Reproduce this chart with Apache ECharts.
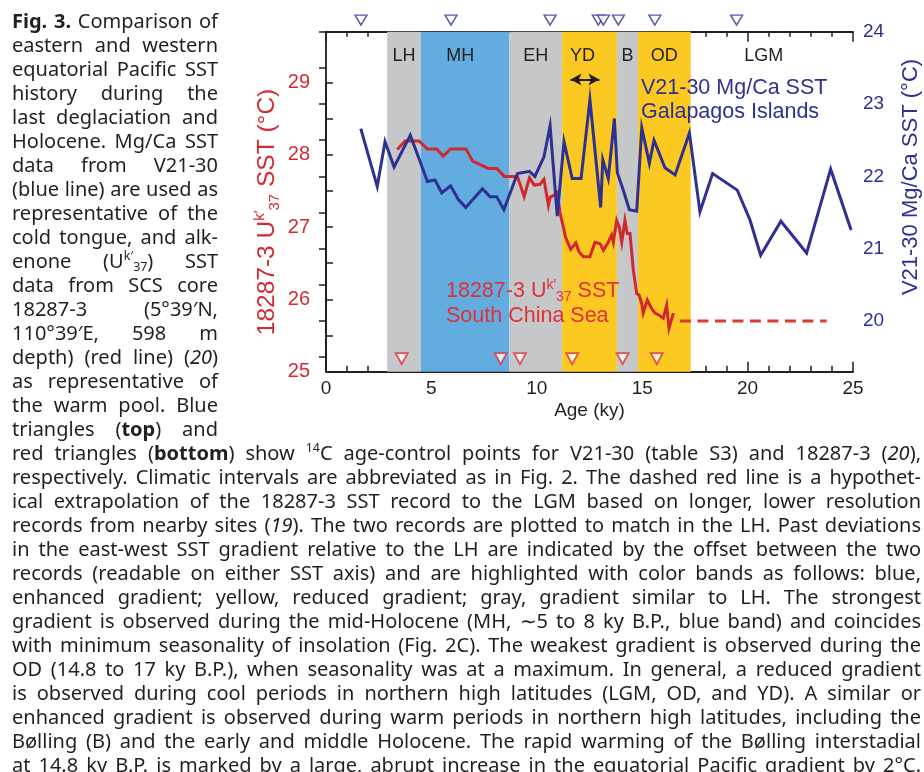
<!DOCTYPE html>
<html><head><meta charset="utf-8">
<script src="https://cdn.jsdelivr.net/npm/echarts@6/dist/echarts.min.js"></script>
<style>
html,body{margin:0;padding:0;background:#fff;width:924px;height:772px;overflow:hidden;}
#chart{position:absolute;left:0;top:0;width:924px;height:772px;}
.cap{position:absolute;font-family:'Noto Sans','Open Sans',sans-serif;font-size:20px;color:#231f20;white-space:nowrap;line-height:24px;height:24px;}
.cap span.t{display:inline-block;transform-origin:0 50%;}
.cap sup,.cap sub{font-size:0.62em;line-height:0;position:relative;vertical-align:baseline;}
.cap sup{top:-0.6em}
.cap sub{top:0.3em}
</style></head>
<body>
<div id="chart"></div>
<div id="caption"></div>
<script>
// ---------------- data ----------------
// V21-30 Mg/Ca SST (right axis, deg C) vs age (ky)
var ageV2130 = [1.65,2.43,2.80,3.23,4.00,4.38,4.81,5.17,5.49,5.91,6.28,6.63,7.42,7.78,8.10,8.44,9.08,9.65,9.91,10.34,10.63,10.97,11.29,11.68,12.10,12.52,13.03,13.13,13.39,13.68,13.82,14.07,14.39,14.74,14.98,15.34,15.56,16.08,16.56,17.24,17.74,18.34,19.51,20.11,20.62,21.58,22.80,23.94,24.91];
var sstV2130 = [22.66,21.86,22.48,22.13,22.57,22.27,21.93,21.95,21.77,21.87,21.68,21.57,21.83,21.72,21.72,21.54,22.04,22.07,22.00,22.27,22.70,21.45,22.48,21.97,21.97,23.06,21.57,22.23,21.97,22.80,22.05,21.84,21.54,21.52,22.67,22.18,22.50,22.12,22.02,22.60,21.51,22.04,21.81,21.40,20.91,21.38,20.94,22.10,21.26];
// 18287-3 Uk'37 SST (left axis, deg C)
var age18287 = [3.38,3.75,4.41,4.81,5.25,5.56,5.91,6.64,6.96,7.70,8.10,8.46,9.08,9.40,9.65,9.88,10.15,10.34,10.55,10.63,10.82,10.97,11.10,11.26,11.36,11.61,11.85,12.00,12.21,12.52,12.76,13.00,13.16,13.39,13.55,13.63,13.79,13.91,14.03,14.18,14.29,14.42,14.58,14.74,14.85,14.98,15.05,15.24,15.45,15.61,15.81,16.00,16.16,16.27,16.48];
var sst18287 = [28.07,28.19,28.19,28.08,28.08,27.98,28.08,28.08,27.91,27.81,27.81,27.70,27.70,27.42,27.68,27.58,27.59,27.66,27.30,27.41,27.44,27.48,27.20,27.00,26.86,26.69,26.78,26.66,26.59,26.59,26.79,26.77,26.68,26.79,26.89,26.79,27.09,27.00,26.79,27.09,26.91,26.91,26.40,26.08,26.06,25.94,25.81,25.99,25.87,25.81,25.78,25.74,25.92,25.60,25.81];
// hypothetical LGM extrapolation (dashed)
var extrapAge = [16.79, 23.75];
var extrapSST = [25.70, 25.70];
// 14C age-control points
var controlAgesV2130 = [1.66, 5.93, 10.63, 12.92, 13.16, 13.87, 15.6, 19.48];
var controlAges18287 = [3.59, 8.29, 9.2, 11.68, 14.07, 15.69];
// climatic intervals
var bandNames = ['LH','MH','EH','YD','B','OD','LGM'];
var bandStart = [2.9, 4.5, 8.7, 11.2, 13.8, 14.8, 17.3];
var bandEnd   = [4.5, 8.7, 11.2, 13.8, 14.8, 17.3, 25];
var bandKind  = ['gray','blue','gray','yellow','gray','yellow','none'];
// YD duration arrow (ky)
var ydArrowAge = [11.6, 12.97];
// tick labels
var xTickLabels = [0,5,10,15,20,25];
var leftTickLabels = [25,26,27,28,29];
var leftTickMarks = [25,25.5,26,26.5,27,27.5,28,28.5,29];
var rightTickLabels = [20,21,22,23,24];
var rightTickMarks = [19.5,20,20.5,21,21.5,22,22.5,23,23.5,24];

// ---------------- caption ----------------
var sideLines = [
 '<b>Fig. 3.</b> Comparison of',
 'eastern and western',
 'equatorial Pacific SST',
 'history during the',
 'last deglaciation and',
 'Holocene. Mg/Ca SST',
 'data from V21-30',
 '(blue line) are used as',
 'representative of the',
 'cold tongue, and alk-',
 'enone (U<sup>k\u2032</sup><sub>37</sub>) SST',
 'data from SCS core',
 '18287-3 (5\u00b039\u2032N,',
 '110\u00b039\u2032E, 598 m',
 'depth) (red line) (<i>20</i>)',
 'as representative of',
 'the warm pool. Blue',
 'triangles (<b>top</b>) and'
];
var fullLines = [
 'red triangles (<b>bottom</b>) show <sup>14</sup>C age-control points for V21-30 (table S3) and 18287-3 (<i>20</i>),',
 'respectively. Climatic intervals are abbreviated as in Fig. 2. The dashed red line is a hypothet-',
 'ical extrapolation of the 18287-3 SST record to the LGM based on longer, lower resolution',
 'records from nearby sites (<i>19</i>). The two records are plotted to match in the LH. Past deviations',
 'in the east-west SST gradient relative to the LH are indicated by the offset between the two',
 'records (readable on either SST axis) and are highlighted with color bands as follows: blue,',
 'enhanced gradient; yellow, reduced gradient; gray, gradient similar to LH. The strongest',
 'gradient is observed during the mid-Holocene (MH, \u223c5 to 8 ky B.P., blue band) and coincides',
 'with minimum seasonality of insolation (Fig. 2C). The weakest gradient is observed during the',
 'OD (14.8 to 17 ky B.P.), when seasonality was at a maximum. In general, a reduced gradient',
 'is observed during cool periods in northern high latitudes (LGM, OD, and YD). A similar or',
 'enhanced gradient is observed during warm periods in northern high latitudes, including the',
 'B\u00f8lling (B) and the early and middle Holocene. The rapid warming of the B\u00f8lling interstadial',
 'at 14.8 ky B.P. is marked by a large, abrupt increase in the equatorial Pacific gradient by 2\u00b0C.'
];

var capEl = document.getElementById('caption');
var capSpans = [];
function addLine(html, x, yc, w){
  var d = document.createElement('div'); d.className = 'cap';
  d.style.left = x + 'px'; d.style.top = (yc - 12) + 'px'; d.style.width = w + 'px';
  var s = document.createElement('span'); s.className = 't'; s.innerHTML = html;
  d.appendChild(s); capEl.appendChild(d);
  capSpans.push([s, w]);
}
sideLines.forEach(function(h, i){ addLine(h, 12, 20.7 + 24 * i, 206); });
fullLines.forEach(function(h, i){ addLine(h, 12, 452.5 + 24 * i, 909); });
function fitAll(){
  capSpans.forEach(function(p){
    var s = p[0], W = p[1];
    s.style.wordSpacing = '0px'; s.style.transform = 'none';
    var w = s.getBoundingClientRect().width;
    var n = (s.textContent.match(/ /g) || []).length;
    if (w < W && n > 0) s.style.wordSpacing = ((W - w) / n) + 'px';
    else if (w > W) s.style.transform = 'scaleX(' + (W / w) + ')';
  });
}
fitAll();
if (document.fonts && document.fonts.ready) document.fonts.ready.then(fitAll);

// ---------------- chart ----------------
var FONT = "'Liberation Sans', Arial, sans-serif";
var INK = '#231f20';
var BLUE = '#2e3192';
var RED = '#d1272f';
var REDTXT = '#e0313a';
var bandColors = { gray: '#c6c7c9', blue: '#62acdf', yellow: '#fcc923', none: 'rgba(0,0,0,0)' };
var bandLabelOffset = { MH: [-5, 0], YD: [-7, 0], LGM: [-8, 0] };

function zip(a, b){ return a.map(function(v, i){ return [v, b[i]]; }); }

var markAreaData = bandNames.map(function(n, i){
  return [{
    xAxis: bandStart[i],
    itemStyle: { color: bandColors[bandKind[i]] },
    label: { offset: bandLabelOffset[n] || [0, 0] },
    name: n
  }, { xAxis: bandEnd[i] }];
});

var chart = echarts.init(document.getElementById('chart'), null, { renderer: 'canvas' });

var axisLineStyle = { color: INK, width: 1.8 };
var tickStyle = { color: INK, width: 1.5 };

var option = {
  animation: false,
  backgroundColor: 'transparent',
  grid: { left: 326, right: 71, top: 31.7, bottom: 400.3, containLabel: false },
  xAxis: [{
    type: 'value', min: 0, max: 25, interval: 5, position: 'bottom',
    axisLine: { show: true, lineStyle: axisLineStyle },
    axisTick: { show: true, inside: true, length: 10, lineStyle: tickStyle },
    minorTick: { show: true, splitNumber: 5, length: 6, lineStyle: tickStyle },
    axisLabel: { show: true, customValues: xTickLabels, fontSize: 19, color: INK, fontFamily: FONT, margin: 8 },
    splitLine: { show: false }, minorSplitLine: { show: false },
    name: 'Age (ky)', nameLocation: 'middle', nameGap: 30,
    nameTextStyle: { fontSize: 19, color: INK, fontFamily: FONT }
  }, {
    type: 'value', min: 0, max: 25, interval: 5, position: 'top',
    axisLine: { show: true, lineStyle: axisLineStyle },
    axisTick: { show: true, inside: true, length: 10, lineStyle: tickStyle },
    minorTick: { show: true, splitNumber: 5, length: 5, lineStyle: tickStyle },
    axisLabel: { show: false },
    splitLine: { show: false }, minorSplitLine: { show: false }
  }],
  yAxis: [{
    type: 'value', min: 25, max: 29.7, position: 'left',
    axisLine: { show: false },
    axisTick: { show: true, inside: true, length: 7, customValues: leftTickMarks, lineStyle: tickStyle },
    axisLabel: { show: true, customValues: leftTickLabels, fontSize: 20, color: '#d52a31', fontFamily: FONT, margin: 16 },
    splitLine: { show: false }
  }, {
    type: 'value', min: 19.3, max: 24, position: 'right',
    axisLine: { show: true, lineStyle: axisLineStyle },
    axisTick: { show: true, inside: true, length: 7, customValues: rightTickMarks, lineStyle: tickStyle },
    axisLabel: { show: true, customValues: rightTickLabels, fontSize: 19, color: BLUE, fontFamily: FONT, margin: 10 },
    splitLine: { show: false }
  }],
  series: [{
    name: '18287-3', type: 'line', xAxisIndex: 0, yAxisIndex: 0,
    data: zip(age18287, sst18287), symbol: 'none', z: 3,
    lineStyle: { color: RED, width: 3, join: 'miter' },
    markArea: {
      silent: true, z: 1,
      label: { show: true, position: 'insideTop', distance: 15, fontSize: 18, color: INK, fontFamily: FONT },
      data: markAreaData
    }
  }, {
    name: 'extrapolation', type: 'line', xAxisIndex: 0, yAxisIndex: 0,
    data: zip(extrapAge, extrapSST), symbol: 'none', z: 3,
    lineStyle: { color: '#e03a2f', width: 3, type: [11, 6.5] }
  }, {
    name: 'V21-30', type: 'line', xAxisIndex: 0, yAxisIndex: 1,
    data: zip(ageV2130, sstV2130), symbol: 'none', z: 4,
    lineStyle: { color: BLUE, width: 3, join: 'miter' },
    markLine: {
      silent: true, symbol: ['arrow', 'arrow'], symbolSize: [9, 11],
      label: { show: false },
      lineStyle: { color: INK, width: 2, type: 'solid' },
      data: [[{ coord: [ydArrowAge[0], 23.34] }, { coord: [ydArrowAge[1], 23.34] }]]
    }
  }, {
    name: 'V21-30 control', type: 'scatter', xAxisIndex: 0, yAxisIndex: 1, clip: false, z: 6,
    data: controlAgesV2130.map(function(a){ return [a, 24.16]; }),
    symbol: 'triangle', symbolRotate: 180, symbolSize: [12, 10],
    itemStyle: { color: '#ffffff', borderColor: BLUE, borderWidth: 1.4 }
  }, {
    name: '18287-3 control', type: 'scatter', xAxisIndex: 0, yAxisIndex: 0, clip: false, z: 6,
    data: controlAges18287.map(function(a){ return [a, 25.18]; }),
    symbol: 'triangle', symbolRotate: 180, symbolSize: [12, 11],
    itemStyle: { color: '#ffffff', borderColor: '#e0313a', borderWidth: 1.8 }
  }]
};
chart.setOption(option);

var xL = chart.convertToPixel({ xAxisIndex: 0 }, 0);
var y25 = chart.convertToPixel({ yAxisIndex: 0 }, 25);
var y29 = chart.convertToPixel({ yAxisIndex: 0 }, 29);

var subRich = {
  m: { fontSize: 21.5, fontFamily: FONT, lineHeight: 26 },
  sup: { fontSize: 14, fontFamily: FONT, verticalAlign: 'top', lineHeight: 13 },
  sub: { fontSize: 14, fontFamily: FONT, verticalAlign: 'bottom', lineHeight: 13 }
};
var titleRich = {
  m: { fontSize: 24.5, fontFamily: FONT, lineHeight: 30 },
  sup: { fontSize: 15, fontFamily: FONT, verticalAlign: 'top', lineHeight: 14 },
  sub: { fontSize: 15, fontFamily: FONT, verticalAlign: 'bottom', lineHeight: 14 }
};

chart.setOption({
  graphic: { elements: [
    { type: 'line', z: 10, shape: { x1: xL, y1: y25, x2: xL, y2: y29 }, style: { stroke: INK, lineWidth: 1.8 } },
    { type: 'text', z: 10, x: 267, y: 212, rotation: Math.PI / 2,
      style: { text: '{m|18287-3 U}{sup|k\u2032}{sub|37}{m| SST (\u00b0C)}', rich: titleRich, fill: '#d52a31', align: 'center', verticalAlign: 'middle' } },
    { type: 'text', z: 10, x: 911, y: 177, rotation: Math.PI / 2,
      style: { text: 'V21-30 Mg/Ca SST (\u00b0C)', fontSize: 22, fontFamily: FONT, fill: BLUE, align: 'center', verticalAlign: 'middle' } },
    { type: 'text', z: 10, x: 641, y: 88,
      style: { text: 'V21-30 Mg/Ca SST', fontSize: 21.5, fontFamily: FONT, fill: BLUE, align: 'left', verticalAlign: 'middle' } },
    { type: 'text', z: 10, x: 641, y: 112,
      style: { text: 'Galapagos Islands', fontSize: 21.5, fontFamily: FONT, fill: BLUE, align: 'left', verticalAlign: 'middle' } },
    { type: 'text', z: 10, x: 446, y: 291,
      style: { text: '{m|18287-3 U}{sup|k\u2032}{sub|37}{m| SST}', rich: subRich, fill: REDTXT, align: 'left', verticalAlign: 'middle' } },
    { type: 'text', z: 10, x: 446, y: 316,
      style: { text: 'South China Sea', fontSize: 21.5, fontFamily: FONT, fill: REDTXT, align: 'left', verticalAlign: 'middle' } }
  ] }
});
</script>
</body></html>
